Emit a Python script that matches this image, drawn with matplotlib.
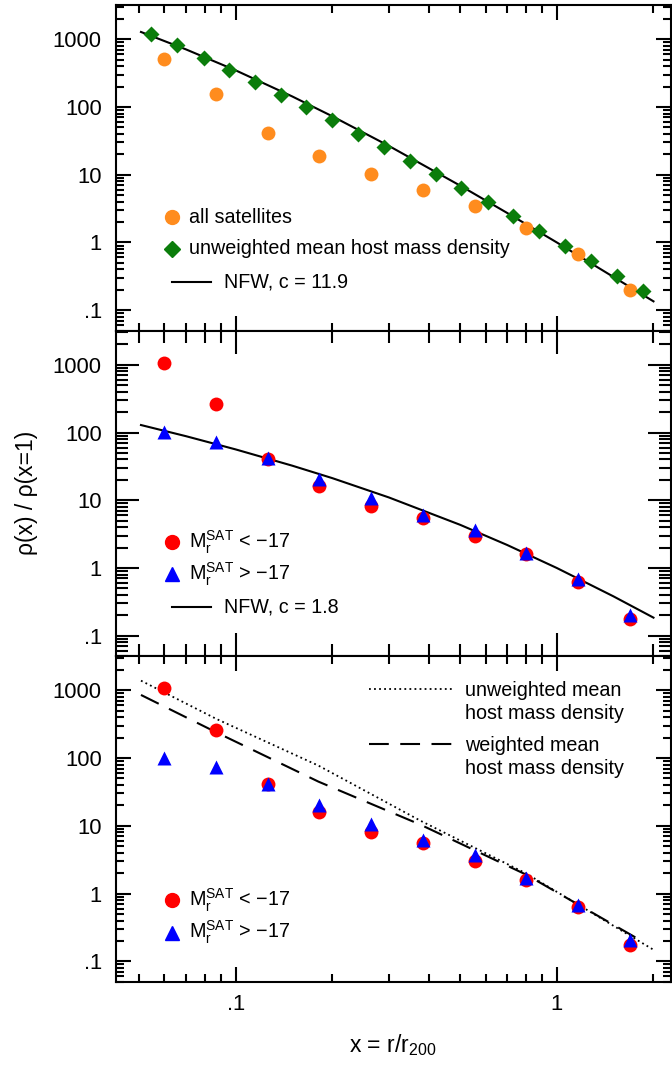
import numpy as np
import matplotlib.pyplot as plt
from matplotlib.ticker import FixedLocator, LogLocator, NullFormatter

plt.rcParams['font.family'] = ['Liberation Sans', 'DejaVu Sans']
plt.rcParams['mathtext.fontset'] = 'custom'
plt.rcParams['mathtext.rm'] = 'Liberation Sans'
plt.rcParams['mathtext.it'] = 'Liberation Sans:italic'
plt.rcParams['mathtext.bf'] = 'Liberation Sans:bold'
plt.rcParams['axes.linewidth'] = 1.5

# unweighted mean host mass density (top panel)
x_host = [0.0545, 0.0658, 0.0794, 0.0953, 0.1147, 0.1384, 0.1661, 0.1999, 0.2405, 0.2903,
          0.3484, 0.4195, 0.5047, 0.6092, 0.7313, 0.8822, 1.059, 1.278, 1.538, 1.851]
rho_host = [1185, 815, 537, 349, 230, 151, 98.2, 63.7, 40.5, 25.7,
            16.2, 10.2, 6.38, 3.97, 2.44, 1.48, 0.880, 0.535, 0.318, 0.189]

# satellite number density profiles
x_sat = [0.0599, 0.0870, 0.1257, 0.1820, 0.2635, 0.3819, 0.5546, 0.8009, 1.163, 1.686]
rho_all = [519, 153, 41.4, 19.0, 10.1, 5.90, 3.47, 1.64, 0.664, 0.197]
rho_bright = [1070, 260, 41, 16.1, 8.2, 5.5, 3.0, 1.6, 0.63, 0.176]
rho_faint = [101, 73, 42, 20.5, 10.8, 6.1, 3.7, 1.68, 0.68, 0.203]

# NFW fits
x_nfw = [0.0507, 0.07, 0.1, 0.15, 0.2, 0.3, 0.5, 0.7, 1.0, 1.5, 2.0]
nfw_c119 = [1280, 708, 347, 143, 72.8, 26.6, 6.9, 2.73, 1.0, 0.31, 0.135]
nfw_c18 = [129, 88.3, 56.3, 32.4, 21.2, 11.0, 4.34, 2.19, 1.0, 0.382, 0.185]

# mean host mass density curves (bottom panel)
x_unw = [0.0507, 0.087, 0.181, 0.376, 0.801, 1.995]
rho_unw = [1390, 379, 77.4, 11.9, 1.99, 0.149]
x_w = [0.0507, 0.087, 0.181, 0.376, 0.801, 1.80]
rho_w = [855, 240, 44.9, 10.4, 1.91, 0.211]

yticks = [0.1, 1, 10, 100, 1000]
ytick_labels = ['.1', '1', '10', '100', '1000']
xticks = [0.1, 1]
xtick_labels = ['.1', '1']

orange = '#FF8C1E'
green = '#0B7D0B'
red = '#FF0000'
blue = '#0000FF'


def setup(ax, major, minor):
    ax.set_xscale('log')
    ax.set_yscale('log')
    ax.set_xlim(0.0423, 2.26)
    ax.set_ylim(0.05, 3200)
    ax.yaxis.set_major_locator(FixedLocator(yticks))
    ax.set_yticklabels(ytick_labels)
    ax.yaxis.set_minor_locator(LogLocator(base=10, subs=np.arange(2, 10), numticks=50))
    ax.yaxis.set_minor_formatter(NullFormatter())
    ax.xaxis.set_major_locator(FixedLocator(xticks))
    ax.set_xticklabels(xtick_labels)
    ax.xaxis.set_minor_locator(LogLocator(base=10, subs=np.arange(2, 10), numticks=50))
    ax.xaxis.set_minor_formatter(NullFormatter())
    ax.tick_params(which='both', direction='in', top=True, right=True, width=1.5, labelsize=15.8)
    ax.tick_params(which='major', length=major)
    ax.tick_params(which='minor', length=minor)
    ax.tick_params(axis='y', pad=10)
    ax.tick_params(axis='x', pad=9)


def key_marker(ax, y, marker, color, size, label):
    ax.plot([0.1015], [y], marker=marker, color=color, ms=size, ls='none',
            transform=ax.transAxes, clip_on=False)
    ax.text(0.1321, y, label, transform=ax.transAxes, fontsize=14.2, va='center')


def key_line(ax, x0, x1, y, **kw):
    ax.plot([x0, x1], [y, y], color='k', transform=ax.transAxes, **kw)


fig = plt.figure(figsize=(6.72, 10.66), dpi=100)
gs = fig.add_gridspec(3, 1, left=0.1722, right=0.9978, top=0.9953, bottom=0.0791, hspace=0)
ax1 = fig.add_subplot(gs[0])
ax2 = fig.add_subplot(gs[1])
ax3 = fig.add_subplot(gs[2])

setup(ax1, 10.5, 6)
setup(ax2, 16.5, 8.5)
setup(ax3, 10.5, 6)
ax1.tick_params(labelbottom=False)
ax2.tick_params(labelbottom=False)

sat_bright = r'$\mathrm{M}_\mathrm{r}^\mathrm{SAT}$ < −17'
sat_faint = r'$\mathrm{M}_\mathrm{r}^\mathrm{SAT}$ > −17'

ms_circ = 10
ms_diam = 8.4
ms_tri = 10.5

# top panel
ax1.plot(x_nfw, nfw_c119, color='k', lw=1.5)
ax1.plot(x_sat, rho_all, 'o', color=orange, ms=ms_circ, mec='none')
ax1.plot(x_host, rho_host, 'D', color=green, ms=ms_diam, mec='none')
key_marker(ax1, 0.3486, 'o', orange, ms_circ, 'all satellites')
key_marker(ax1, 0.2514, 'D', green, ms_diam, 'unweighted mean host mass density')
key_line(ax1, 0.1015, 0.1718, 0.1486, lw=1.5)
ax1.text(0.1952, 0.1486, 'NFW, c = 11.9', transform=ax1.transAxes, fontsize=14.2, va='center')

# middle panel
ax2.plot(x_nfw, nfw_c18, color='k', lw=1.5)
ax2.plot(x_sat, rho_bright, 'o', color=red, ms=ms_circ, mec='none')
ax2.plot(x_sat, rho_faint, '^', color=blue, ms=ms_tri, mec='none')
key_marker(ax2, 0.350, 'o', red, ms_circ, sat_bright)
key_marker(ax2, 0.2508, '^', blue, ms_tri, sat_faint)
key_line(ax2, 0.1015, 0.1718, 0.1504, lw=1.5)
ax2.text(0.1952, 0.1504, 'NFW, c = 1.8', transform=ax2.transAxes, fontsize=14.2, va='center')
ax2.set_ylabel('ρ(x) / ρ(x=1)', fontsize=16.5)
ax2.yaxis.set_label_coords(-0.14, 0.5)

# bottom panel
ax3.plot(x_unw, rho_unw, color='k', lw=1.3, dashes=(1, 1.8))
ax3.plot(x_w, rho_w, color='k', lw=1.5, dashes=(9.5, 5.5))
ax3.plot(x_sat, rho_bright, 'o', color=red, ms=ms_circ, mec='none')
ax3.plot(x_sat, rho_faint, '^', color=blue, ms=ms_tri, mec='none')
key_marker(ax3, 0.2506, 'o', red, ms_circ, sat_bright)
key_marker(ax3, 0.1503, '^', blue, ms_tri, sat_faint)
key_line(ax3, 0.4557, 0.6087, 0.900, lw=1.3, dashes=(1, 1.8))
key_line(ax3, 0.4557, 0.6087, 0.7313, lw=1.5, dashes=(9.5, 5.5))
ax3.text(0.6303, 0.8948, 'unweighted mean', transform=ax3.transAxes, fontsize=14.2, va='center')
ax3.text(0.6303, 0.825, 'host mass density', transform=ax3.transAxes, fontsize=14.2, va='center')
ax3.text(0.6303, 0.726, 'weighted mean', transform=ax3.transAxes, fontsize=14.2, va='center')
ax3.text(0.6303, 0.6546, 'host mass density', transform=ax3.transAxes, fontsize=14.2, va='center')
ax3.set_xlabel('x = r/r$_{200}$', fontsize=16.5, labelpad=12)

fig.savefig('out.png', dpi=100)
